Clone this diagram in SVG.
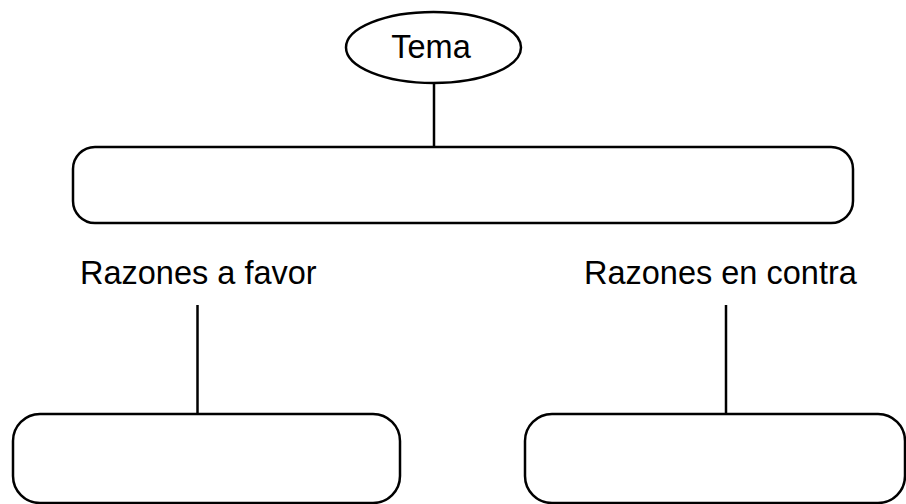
<svg xmlns="http://www.w3.org/2000/svg" width="906" height="504" viewBox="0 0 906 504">
<style>
.s{fill:none;stroke:#000;stroke-width:2.5}
.n{fill:#fff;stroke:#000;stroke-width:2.5}
text{font-family:"Liberation Sans",Arial,sans-serif;font-size:32.5px;fill:#000}
</style>
<rect width="906" height="504" fill="#fff"/>
<g id="connectors">
<line class="s" x1="434" y1="83" x2="434" y2="147"/>
<line class="s" x1="197.5" y1="305" x2="197.5" y2="414"/>
<line class="s" x1="726" y1="305" x2="726" y2="414"/>
</g>
<g id="tema">
<ellipse class="n" cx="433.5" cy="47.5" rx="87.5" ry="35.5"/>
<text x="431" y="57.5" text-anchor="middle">Tema</text>
</g>
<g id="central">
<rect class="n" x="73" y="147" width="780" height="76" rx="22" ry="22"/>
</g>
<g id="label-favor">
<text x="80" y="283.5">Razones a favor</text>
</g>
<g id="label-contra">
<text x="584" y="283.5">Razones en contra</text>
</g>
<g id="favor">
<rect class="n" x="13" y="414" width="387" height="89" rx="27" ry="27"/>
</g>
<g id="contra">
<rect class="n" x="525" y="414" width="380" height="89" rx="27" ry="27"/>
</g>
</svg>
